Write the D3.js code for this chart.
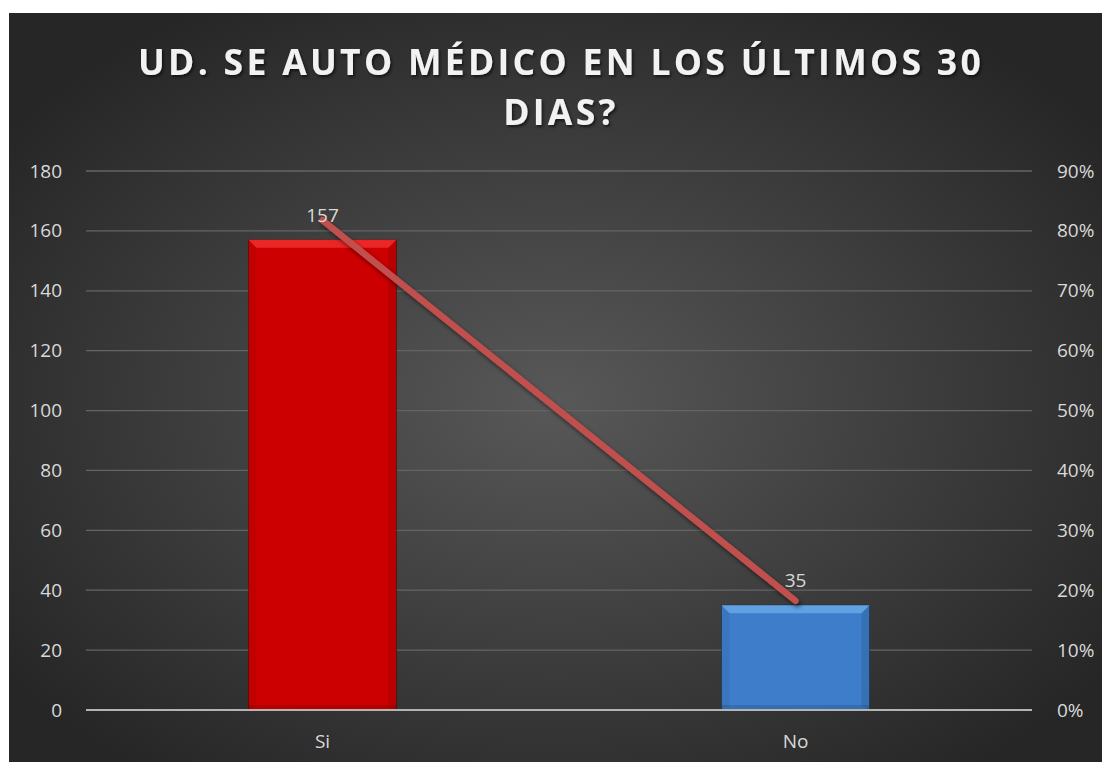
<!DOCTYPE html>
<html>
<head>
<meta charset="utf-8">
<style>
  body { margin: 0; background: #fff; }
  svg text { font-family: "Open Sans", sans-serif; }
</style>
<script src="https://cdn.jsdelivr.net/npm/d3@7"></script>
</head>
<body>
<svg id="chart" width="1102" height="762"></svg>
<script>
// data
var categories = ["Si", "No"];
var counts = [157, 35];
var countTicks = [0, 20, 40, 60, 80, 100, 120, 140, 160, 180];
var pctTicks = [0, 0.1, 0.2, 0.3, 0.4, 0.5, 0.6, 0.7, 0.8, 0.9];
var barColors = ["#cc0000", "#3d7dca"];
var barLight = ["#f23030", "#68aae6"];
var titleLines = ["UD. SE AUTO MÉDICO EN LOS ÚLTIMOS 30", "DIAS?"];

var total = d3.sum(counts);
var pcts = counts.map(function(c){ return c / total; });

var svg = d3.select("#chart");
var W = 1102, H = 762;
var m = {left: 86, right: 70, top: 171, bottom: 52};

var defs = svg.append("defs");
var rg = defs.append("radialGradient").attr("id", "bg")
  .attr("cx", "50%").attr("cy", "52%").attr("r", "62%");
rg.append("stop").attr("offset", "0%").attr("stop-color", "#585858");
rg.append("stop").attr("offset", "100%").attr("stop-color", "#262626");

var sh = defs.append("filter").attr("id", "shadow").attr("x", "-10%").attr("y", "-10%").attr("width", "120%").attr("height", "120%");
sh.append("feDropShadow").attr("dx", 2).attr("dy", 3).attr("stdDeviation", 2).attr("flood-color", "#000").attr("flood-opacity", 0.55);
var tsh = defs.append("filter").attr("id", "tshadow");
tsh.append("feDropShadow").attr("dx", 1.5).attr("dy", 2).attr("stdDeviation", 1.5).attr("flood-color", "#000").attr("flood-opacity", 0.6);

svg.append("rect").attr("x", 9).attr("y", 13).attr("width", W - 9).attr("height", H - 13).attr("fill", "url(#bg)");

// title
svg.append("g").attr("filter", "url(#tshadow)")
  .selectAll("text").data(titleLines).enter().append("text")
  .attr("x", 561).attr("y", function(d, i){ return 75 + i * 50; })
  .attr("text-anchor", "middle")
  .attr("fill", "#f2f2f2").attr("font-size", 35.5).attr("font-weight", 700)
  .attr("letter-spacing", 3.3)
  .text(function(d){ return d; });

var x = d3.scaleBand().domain(categories).range([m.left, W - m.right]).paddingInner(0.687).paddingOuter(0.3435);
var y = d3.scaleLinear().domain([0, 180]).range([H - m.bottom, m.top]);
var y2 = d3.scaleLinear().domain([0, 0.9]).range([H - m.bottom, m.top]);

// gridlines
svg.append("g").selectAll("line").data(countTicks.slice(1)).enter().append("line")
  .attr("x1", m.left).attr("x2", W - m.right)
  .attr("y1", function(d){ return y(d); }).attr("y2", function(d){ return y(d); })
  .attr("stroke", "#646464").attr("stroke-width", 1.3);

// left axis
var ay = svg.append("g").attr("transform", "translate(" + (m.left - 1) + ",0)")
  .call(d3.axisLeft(y).tickValues(countTicks).tickSize(0).tickPadding(23));
ay.select(".domain").remove();
ay.selectAll("text").attr("fill", "#d9d9d9").attr("font-size", 19).attr("font-family", "Open Sans, sans-serif");

// right axis
var ay2 = svg.append("g").attr("transform", "translate(" + (W - m.right) + ",0)")
  .call(d3.axisRight(y2).tickValues(pctTicks).tickFormat(d3.format(".0%")).tickSize(0).tickPadding(25));
ay2.select(".domain").remove();
ay2.selectAll("text").attr("fill", "#d9d9d9").attr("font-size", 19).attr("font-family", "Open Sans, sans-serif");

// bars
var bars = svg.append("g").selectAll("g").data(categories).enter().append("g");
bars.append("rect")
  .attr("x", function(d){ return x(d); })
  .attr("y", function(d, i){ return y(counts[i]); })
  .attr("width", x.bandwidth())
  .attr("height", function(d, i){ return y(0) - y(counts[i]); })
  .attr("fill", function(d, i){ return barColors[i]; })
  .attr("stroke", "rgba(0,0,0,0.3)").attr("stroke-width", 1);
var bev = 8;
bars.append("path")
  .attr("d", function(d, i){
    var x0 = x(d), x1 = x(d) + x.bandwidth(), t = y(counts[i]);
    return "M" + x0 + "," + t + "L" + x1 + "," + t + "L" + (x1 - bev) + "," + (t + bev) + "L" + (x0 + bev) + "," + (t + bev) + "Z";
  })
  .attr("fill", function(d, i){ return barLight[i]; }).attr("opacity", 0.8);
bars.append("path")
  .attr("d", function(d, i){
    var x0 = x(d), t = y(counts[i]), b = y(0);
    return "M" + x0 + "," + t + "L" + (x0 + bev) + "," + (t + bev) + "L" + (x0 + bev) + "," + (b - 4) + "L" + x0 + "," + b + "Z";
  })
  .attr("fill", "#000").attr("opacity", 0.05);
bars.append("path")
  .attr("d", function(d, i){
    var x1 = x(d) + x.bandwidth(), t = y(counts[i]), b = y(0);
    return "M" + x1 + "," + t + "L" + (x1 - bev) + "," + (t + bev) + "L" + (x1 - bev) + "," + (b - 4) + "L" + x1 + "," + b + "Z";
  })
  .attr("fill", "#000").attr("opacity", 0.1);
bars.append("rect")
  .attr("x", function(d){ return x(d); })
  .attr("y", y(0) - 5)
  .attr("width", x.bandwidth()).attr("height", 5)
  .attr("fill", "#000").attr("opacity", 0.12);

// zero line
svg.append("line").attr("x1", m.left).attr("x2", W - m.right)
  .attr("y1", y(0)).attr("y2", y(0)).attr("stroke", "#b4b4b4").attr("stroke-width", 2.2);

// category labels
svg.append("g").selectAll("text").data(categories).enter().append("text")
  .attr("x", function(d){ return x(d) + x.bandwidth() / 2; })
  .attr("y", y(0) + 38)
  .attr("text-anchor", "middle").attr("fill", "#d9d9d9").attr("font-size", 19)
  .text(function(d){ return d; });

// percentage line
var line = d3.line()
  .x(function(d, i){ return x(categories[i]) + x.bandwidth() / 2; })
  .y(function(d){ return y2(d); });
svg.append("path").datum(pcts).attr("d", line)
  .attr("fill", "none").attr("stroke", "#c0504d").attr("stroke-width", 6.5)
  .attr("stroke-linecap", "round").attr("filter", "url(#shadow)");

// data labels
svg.append("g").selectAll("text").data(categories).enter().append("text")
  .attr("x", function(d){ return x(d) + x.bandwidth() / 2; })
  .attr("y", function(d, i){ return y(counts[i]) - 18; })
  .attr("text-anchor", "middle").attr("fill", "#d9d9d9").attr("font-size", 19)
  .text(function(d, i){ return counts[i]; });
</script>
</body>
</html>
